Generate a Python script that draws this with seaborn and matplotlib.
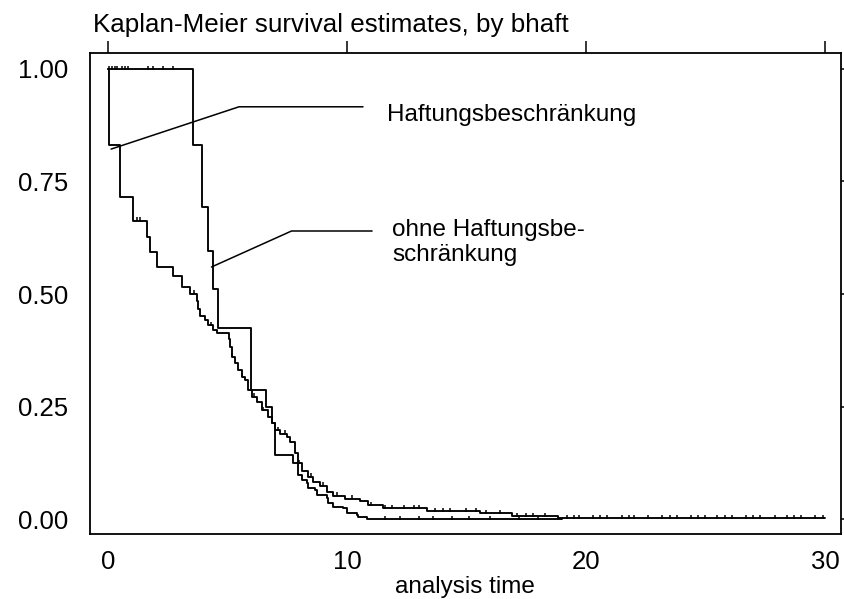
import numpy as np
import pandas as pd
import matplotlib
matplotlib.use("Agg")
import matplotlib.pyplot as plt
import seaborn as sns

# ---------------- data ----------------
group_names = ["Haftungsbeschränkung", "ohne Haftungsbeschränkung"]

time_a = [0.00, 0.03, 0.50, 1.06, 1.62, 1.76, 2.04, 2.73, 3.08, 3.43, 3.71, 3.78,
          3.85, 4.06, 4.20, 4.41, 4.55, 5.06, 5.10, 5.18, 5.31, 5.45, 5.59, 5.73,
          5.87, 6.01, 6.22, 6.43, 6.71, 6.85, 6.99, 7.20, 7.48, 7.62, 7.82, 7.96,
          8.10, 8.38, 8.59, 8.87, 9.15, 9.40, 9.92, 10.54, 10.89, 11.52, 13.35,
          15.58, 16.89, 18.85, 30.00]
surv_a = [1.000, 0.831, 0.716, 0.663, 0.626, 0.593, 0.561, 0.539, 0.516, 0.501,
          0.485, 0.466, 0.452, 0.442, 0.431, 0.421, 0.414, 0.401, 0.383, 0.361,
          0.346, 0.331, 0.316, 0.309, 0.287, 0.272, 0.261, 0.242, 0.227, 0.213,
          0.198, 0.190, 0.183, 0.172, 0.146, 0.124, 0.107, 0.094, 0.083, 0.074,
          0.061, 0.052, 0.045, 0.039, 0.031, 0.024, 0.018, 0.013, 0.007, 0.002,
          0.002]

time_b = [0.00, 3.54, 3.92, 4.20, 4.38, 4.62, 5.98, 6.61, 6.85, 6.99, 7.75, 7.96,
          8.10, 8.31, 8.38, 8.66, 8.73, 9.15, 9.22, 9.43, 9.85, 9.99, 10.40, 10.47,
          10.85, 19.00]
surv_b = [1.000, 0.831, 0.694, 0.596, 0.511, 0.424, 0.287, 0.250, 0.213, 0.142,
          0.124, 0.098, 0.087, 0.079, 0.068, 0.064, 0.053, 0.046, 0.035, 0.027,
          0.024, 0.013, 0.009, 0.005, 0.000, 0.000]

censor_a = [1.20, 1.35, 3.60, 4.30, 5.20, 5.60, 6.10, 6.50, 7.10, 7.40, 8.00, 8.50,
            9.00, 9.60, 10.20, 11.00, 11.60, 11.90, 12.40, 12.80, 13.00, 13.70,
            14.00, 14.30, 15.00, 15.40, 15.80, 16.40, 17.10, 17.50, 17.80, 18.30,
            19.20, 19.50, 19.70, 20.30, 20.60, 20.90, 21.50, 21.80, 22.00, 22.60,
            23.20, 23.50, 23.80, 24.40, 24.70, 25.00, 25.50, 25.80, 26.10, 26.70,
            27.00, 27.30, 27.90, 28.40, 28.70, 29.00, 29.60, 29.90]
censor_b = [0.05, 0.15, 0.29, 0.36, 0.57, 0.71, 0.85, 1.69, 1.90, 2.31, 2.73,
            11.60, 12.20, 13.00, 13.60, 14.40, 15.10, 16.00, 17.20, 18.00]

x_ticks = [0, 10, 20, 30]
y_ticks = [0.00, 0.25, 0.50, 0.75, 1.00]
y_tick_labels = ["0.00", "0.25", "0.50", "0.75", "1.00"]

title = "Kaplan-Meier survival estimates, by bhaft"
x_label = "analysis time"
label_1 = "Haftungsbeschränkung"
label_2 = "ohne Haftungsbe-\nschränkung"

# ---------------- build table ----------------
df = pd.concat([
    pd.DataFrame({"time": time_a, "surv": surv_a, "group": group_names[0]}),
    pd.DataFrame({"time": time_b, "surv": surv_b, "group": group_names[1]}),
], ignore_index=True)

# ---------------- style ----------------
sns.set_style("white")
plt.rcParams["font.family"] = ["Liberation Sans", "DejaVu Sans"]
plt.rcParams["axes.linewidth"] = 1.1
plt.rcParams["text.color"] = "black"
plt.rcParams["axes.labelcolor"] = "black"
plt.rcParams["xtick.color"] = "black"
plt.rcParams["ytick.color"] = "black"

W, H = 844, 599
fig = plt.figure(figsize=(W / 100, H / 100), dpi=100)
ax = fig.add_axes([90 / W, 1 - 534 / H, (840.5 - 90) / W, (534 - 52.7) / H])

sns.lineplot(data=df, x="time", y="surv", hue="group",
             palette={group_names[0]: "black", group_names[1]: "black"},
             estimator=None, sort=True, drawstyle="steps-post",
             linewidth=1.35, legend=False, ax=ax)

# censoring marks
for times, survs, cens in [(time_a, surv_a, censor_a), (time_b, surv_b, censor_b)]:
    t = np.asarray(times)
    s = np.asarray(survs)
    c = np.asarray(cens)
    idx = np.searchsorted(t, c, side="right") - 1
    ax.plot(c, s[idx] + 0.003, ls="none", marker="|", ms=2.2, mew=1.1,
            color="black")

# label connector lines
ax.plot([0.13, 5.48, 10.67], [0.822, 0.916, 0.916], color="black", lw=1.1)
ax.plot([4.33, 7.68, 11.05], [0.560, 0.640, 0.640], color="black", lw=1.1)
ax.text(11.67, 0.898, label_1, fontsize=17.5, va="center", ha="left")
ax.text(11.88, 0.614, label_2, fontsize=17.5, va="center", ha="left",
        linespacing=1.2)

ax.set_xlim(-0.753, 30.65)
ax.set_ylim(-0.0333, 1.0362)
ax.set_xticks(x_ticks)
ax.set_xticklabels([str(v) for v in x_ticks])
ax.set_yticks(y_ticks)
ax.set_yticklabels(y_tick_labels)
ax.tick_params(axis="both", direction="out", length=8.8, width=1.1,
               colors="black", top=True, right=True, labelsize=18.5)
ax.tick_params(axis="x", pad=3)
ax.tick_params(axis="y", pad=7)
ax.set_xlabel(x_label, fontsize=17.5, labelpad=1)
ax.set_ylabel("")
for sp in ax.spines.values():
    sp.set_visible(True)
    sp.set_color("black")
    sp.set_linewidth(1.3)
ax.grid(False)

fig.text(93 / W, 1 - 32.3 / H, title, fontsize=18.7, ha="left",
         va="baseline", color="black")

fig.savefig("out.png", dpi=100, facecolor="white")
